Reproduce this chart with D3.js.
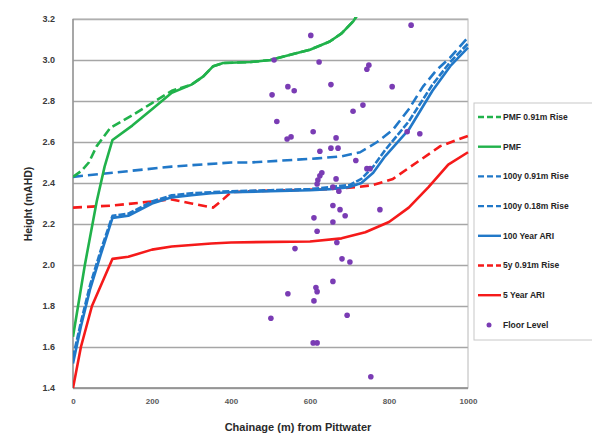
<!DOCTYPE html>
<html>
<head>
<meta charset="utf-8">
<script src="https://cdn.jsdelivr.net/npm/d3@7"></script>
<style>
  body { margin: 0; background: #fff; }
  text { font-family: "Liberation Sans", Arial, sans-serif; }
</style>
</head>
<body>
<div id="chart"></div>
<script>
// chart data
var xTicks = [0, 200, 400, 600, 800, 1000];
var yTicks = [1.4, 1.6, 1.8, 2.0, 2.2, 2.4, 2.6, 2.8, 3.0, 3.2];

var pmf091 = [[0,2.43],[22,2.46],[40,2.50],[60,2.58],[95,2.67],[150,2.73],[200,2.79],[250,2.85],[300,2.88],[330,2.92],[355,2.97],[380,2.985],[450,2.99],[500,3.0],[560,3.03],[600,3.05],[650,3.09],[680,3.13],[710,3.19],[720,3.22]];
var pmf = [[0,1.65],[30,2.0],[60,2.31],[80,2.48],[100,2.61],[150,2.68],[200,2.76],[250,2.84],[300,2.88],[330,2.92],[355,2.97],[380,2.985],[450,2.99],[500,3.0],[560,3.03],[600,3.05],[650,3.09],[680,3.13],[710,3.19],[720,3.22]];
var y100r091 = [[0,2.43],[100,2.45],[250,2.48],[400,2.50],[450,2.50],[618,2.52],[680,2.53],[727,2.55],[770,2.60],[810,2.66],[850,2.76],[886,2.87],[920,2.95],[954,3.01],[1000,3.11]];
var y100r018 = [[0,1.55],[20,1.72],[43,1.9],[70,2.07],[100,2.24],[140,2.25],[200,2.31],[250,2.34],[300,2.35],[400,2.36],[500,2.365],[600,2.37],[650,2.38],[700,2.39],[730,2.42],[760,2.48],[790,2.56],[850,2.70],[910,2.88],[955,2.99],[1000,3.08]];
var y100 = [[0,1.52],[20,1.70],[43,1.88],[70,2.05],[100,2.23],[140,2.24],[200,2.30],[250,2.33],[300,2.34],[350,2.35],[400,2.355],[500,2.36],[600,2.365],[650,2.37],[700,2.38],[730,2.40],[760,2.45],[790,2.53],[850,2.66],[910,2.85],[955,2.97],[1000,3.06]];
var y5r091 = [[0,2.28],[100,2.29],[200,2.31],[250,2.32],[300,2.30],[355,2.28],[380,2.32],[400,2.355],[450,2.36],[550,2.365],[650,2.37],[720,2.38],[760,2.39],[810,2.42],[870,2.50],[930,2.58],[1000,2.63]];
var y5 = [[0,1.40],[20,1.60],[48,1.80],[100,2.03],[140,2.04],[200,2.075],[250,2.09],[350,2.105],[400,2.11],[600,2.115],[680,2.13],[740,2.16],[800,2.21],[850,2.28],[900,2.38],[950,2.49],[1000,2.55]];
var floorLevel = [[602,3.12],[856,3.17],[509,3.0],[623,2.99],[749,2.975],[744,2.955],[504,2.83],[544,2.87],[560,2.85],[653,2.88],[808,2.87],
  [734,2.78],[709,2.75],[516,2.70],[608,2.65],[542,2.615],[552,2.625],[666,2.62],[625,2.555],[653,2.57],[671,2.57],[716,2.51],[744,2.47],[752,2.47],
  [620,2.415],[625,2.435],[630,2.45],[618,2.395],[666,2.42],[658,2.38],[673,2.36],[658,2.29],[676,2.27],[689,2.24],[777,2.27],[610,2.23],[618,2.165],
  [658,2.21],[562,2.08],[668,2.11],[681,2.03],[701,2.015],[658,1.92],[615,1.89],[618,1.87],[544,1.86],[610,1.825],[501,1.74],[694,1.755],
  [608,1.62],[618,1.62],[754,1.455],[846,2.65],[878,2.64]];

var series = [
  { name: "PMF 0.91m Rise", data: pmf091, color: "#21b24b", dash: "9,4" },
  { name: "PMF", data: pmf, color: "#21b24b", dash: null },
  { name: "100y 0.91m Rise", data: y100r091, color: "#2178c8", dash: "10,5" },
  { name: "100y 0.18m Rise", data: y100r018, color: "#2178c8", dash: "7,2" },
  { name: "100 Year ARI", data: y100, color: "#2178c8", dash: null },
  { name: "5y 0.91m Rise", data: y5r091, color: "#f51a1a", dash: "9,5" },
  { name: "5 Year ARI", data: y5, color: "#f51a1a", dash: null }
];

var svgWidth = 592;
var svgHeight = 435;
var plot = { left: 73, right: 468, top: 19, bottom: 388 };

var svg = d3.select("#chart").append("svg")
  .attr("width", svgWidth)
  .attr("height", svgHeight);

var x = d3.scaleLinear().domain([0, 1000]).range([plot.left, plot.right]);
var y = d3.scaleLinear().domain([1.4, 3.2]).range([plot.bottom, plot.top]);

// gridlines
svg.append("g")
  .attr("transform", `translate(${plot.left},0)`)
  .call(d3.axisLeft(y).tickValues(yTicks).tickSize(-(plot.right - plot.left)).tickFormat(""))
  .call(g => g.select(".domain").remove())
  .call(g => g.selectAll("line").attr("stroke", "#a6a6a6").attr("stroke-width", 1.3));

// plot frame
svg.append("rect")
  .attr("x", plot.left).attr("y", plot.top)
  .attr("width", plot.right - plot.left).attr("height", plot.bottom - plot.top)
  .attr("fill", "none").attr("stroke", "#b8b8b8").attr("stroke-width", 1);

svg.append("line")
  .attr("x1", plot.left).attr("x2", plot.left)
  .attr("y1", plot.top).attr("y2", plot.bottom)
  .attr("stroke", "#8c8c8c").attr("stroke-width", 1.3);
svg.append("line")
  .attr("x1", plot.left).attr("x2", plot.right)
  .attr("y1", plot.bottom).attr("y2", plot.bottom)
  .attr("stroke", "#8c8c8c").attr("stroke-width", 1.3);

// axes labels
var yAxis = svg.append("g")
  .attr("transform", `translate(${plot.left - 18},0)`)
  .call(d3.axisLeft(y).tickValues(yTicks).tickSize(0).tickFormat(d3.format(".1f")));
yAxis.select(".domain").remove();
yAxis.selectAll("text")
  .attr("x", 0).attr("fill", "#3a3a3a")
  .style("font-size", "9px").style("font-weight", "bold");

var xAxis = svg.append("g")
  .attr("transform", `translate(0,${plot.bottom + 10})`)
  .call(d3.axisBottom(x).tickValues(xTicks).tickSize(0).tickFormat(d3.format("d")));
xAxis.select(".domain").remove();
xAxis.selectAll("text")
  .attr("y", 0).attr("dy", "0.71em").attr("fill", "#5a5a5a")
  .style("font-size", "8px").style("font-weight", "bold");

svg.append("clipPath").attr("id", "clip")
  .append("rect")
  .attr("x", plot.left).attr("y", plot.top - 2)
  .attr("width", plot.right - plot.left + 2).attr("height", plot.bottom - plot.top + 4);

var line = d3.line().x(d => x(d[0])).y(d => y(d[1]));

var linesG = svg.append("g").attr("clip-path", "url(#clip)");
series.slice().reverse().forEach(function(s) {
  linesG.append("path")
    .datum(s.data)
    .attr("d", line)
    .attr("fill", "none")
    .attr("stroke", s.color)
    .attr("stroke-width", 2.6)
    .attr("stroke-dasharray", s.dash)
    .attr("stroke-linejoin", "round");
});

// floor levels
svg.append("g").selectAll("circle")
  .data(floorLevel)
  .enter().append("circle")
  .attr("cx", d => x(d[0]))
  .attr("cy", d => y(d[1]))
  .attr("r", 2.8)
  .attr("fill", "#7a3cb4");

// legend
var legend = svg.append("g");
legend.append("rect")
  .attr("x", 474).attr("y", 103)
  .attr("width", 130).attr("height", 237)
  .attr("fill", "#fff").attr("stroke", "#c8c8c8");

var legendItems = series.concat([{ name: "Floor Level", color: "#7a3cb4", dot: true }]);
legendItems.forEach(function(s, i) {
  var ly = 117 + i * 29.7;
  if (s.dot) {
    legend.append("circle").attr("cx", 489).attr("cy", ly).attr("r", 2.5).attr("fill", s.color);
  } else {
    legend.append("line")
      .attr("x1", 478).attr("x2", 501)
      .attr("y1", ly).attr("y2", ly)
      .attr("stroke", s.color).attr("stroke-width", 2.4)
      .attr("stroke-dasharray", s.dash ? "6,3" : null);
  }
  legend.append("text")
    .attr("x", 503).attr("y", ly).attr("dy", "0.35em")
    .attr("fill", "#262626")
    .style("font-size", "8.5px").style("font-weight", "bold")
    .text(s.name);
});

// axis titles
svg.append("text")
  .attr("x", 298).attr("y", 431)
  .attr("text-anchor", "middle")
  .attr("fill", "#2a2a2a")
  .style("font-size", "11px").style("font-weight", "bold")
  .text("Chainage (m) from Pittwater");

svg.append("text")
  .attr("transform", "translate(32,204) rotate(-90)")
  .attr("text-anchor", "middle")
  .attr("fill", "#2a2a2a")
  .style("font-size", "10.5px").style("font-weight", "bold")
  .text("Height (mAHD)");
</script>
</body>
</html>
